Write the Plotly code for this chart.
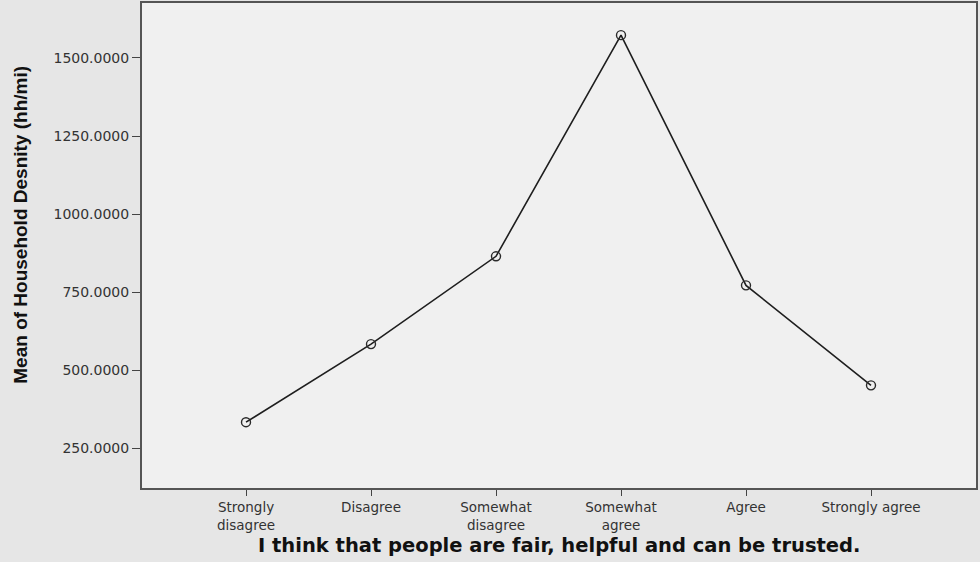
import plotly.graph_objects as go

categories = ["Strongly<br>disagree", "Disagree", "Somewhat<br>disagree",
              "Somewhat<br>agree", "Agree", "Strongly agree"]
mean_density = [334, 584, 865, 1573, 772, 452]
y_ticks = [250, 500, 750, 1000, 1250, 1500]
y_tick_labels = ["250.0000", "500.0000", "750.0000", "1000.0000", "1250.0000", "1500.0000"]

x_title = "I think that people are fair, helpful and can be trusted."
y_title = "Mean of Household Desnity (hh/mi)"

fig = go.Figure()
fig.add_trace(go.Scatter(
    x=list(range(len(categories))), y=mean_density,
    mode="lines+markers",
    line=dict(color="#1e1e1e", width=1.6),
    marker=dict(symbol="circle-open", size=9, color="#2a2a2a", line=dict(width=1.4)),
    showlegend=False,
))

fig.update_layout(
    width=980, height=562,
    margin=dict(l=142, r=4, t=1, b=74),
    paper_bgcolor="#e6e6e6",
    plot_bgcolor="#f0f0f0",
    font=dict(family="DejaVu Sans, Verdana, sans-serif", color="#333333"),
    xaxis=dict(
        tickmode="array", tickvals=list(range(len(categories))), ticktext=categories,
        range=[-0.832, 5.84],
        showgrid=False, zeroline=False,
        showline=True, linecolor="#555555", linewidth=2, mirror=True,
        ticks="outside", ticklen=6, tickwidth=1, tickcolor="#444444",
        tickfont=dict(size=13.5, color="#333333"),
    ),
    yaxis=dict(
        tickmode="array", tickvals=y_ticks, ticktext=y_tick_labels,
        range=[123.3, 1676],
        showgrid=False, zeroline=False,
        showline=True, linecolor="#555555", linewidth=2, mirror=True,
        ticks="outside", ticklen=8, tickwidth=1, tickcolor="#444444",
        tickfont=dict(size=14, color="#333333"),
    ),
    annotations=[
        dict(text="<b>" + x_title + "</b>", xref="paper", yref="paper",
             x=0.5, y=-0.118, xanchor="center", yanchor="middle", showarrow=False,
             font=dict(size=19.5, family="DejaVu Sans, Verdana, sans-serif", color="#111111")),
        dict(text="<b>" + y_title + "</b>", xref="paper", yref="paper",
             x=-0.145, y=0.543, xanchor="center", yanchor="middle", showarrow=False,
             textangle=-90,
             font=dict(size=19, family="Liberation Sans, Arial, sans-serif", color="#111111")),
    ],
)

fig.write_html("out.html", config={"displayModeBar": False},
               post_script="document.body.style.margin='0';document.body.style.overflow='hidden';")
